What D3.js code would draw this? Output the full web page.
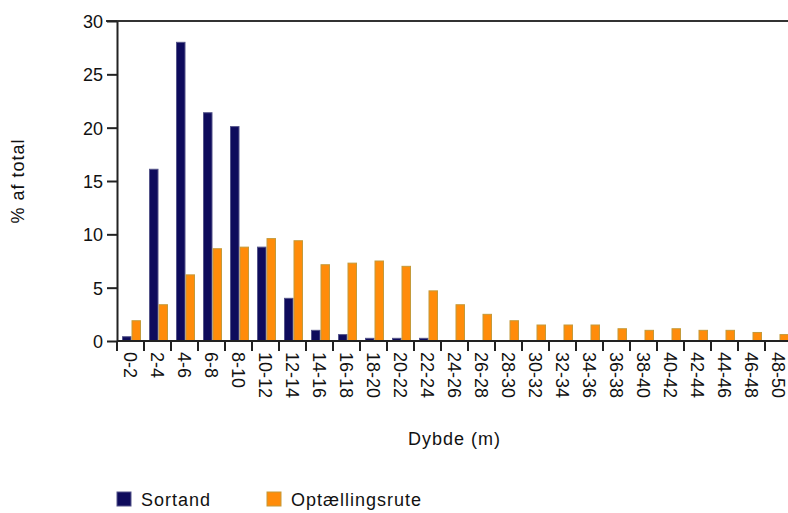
<!DOCTYPE html>
<html>
<head>
<meta charset="utf-8">
<script src="https://cdn.jsdelivr.net/npm/d3@7"></script>
<style>
  body { margin: 0; background: #fff; }
  text { font-family: "Liberation Sans", Arial, sans-serif; fill: #111; }
  .axis path, .axis line { stroke: #222; stroke-width: 2; }
</style>
</head>
<body>
<div id="chart"></div>
<script>
var width = 788;
var height = 513;

var categories = ["0-2","2-4","4-6","6-8","8-10","10-12","12-14","14-16","16-18","18-20",
                  "20-22","22-24","24-26","26-28","28-30","30-32","32-34","34-36","36-38",
                  "38-40","40-42","42-44","44-46","46-48","48-50"];
var sortand = [0.4, 16.1, 28.0, 21.4, 20.1, 8.8, 4.0, 1.0, 0.6, 0.25, 0.25, 0.25, 0,
               0, 0, 0, 0, 0, 0, 0, 0, 0, 0, 0, 0];
var optaelling = [1.9, 3.4, 6.2, 8.65, 8.8, 9.6, 9.4, 7.15, 7.3, 7.5, 7.0, 4.7, 3.4,
                  2.5, 1.9, 1.5, 1.5, 1.5, 1.15, 1.0, 1.15, 1.0, 1.0, 0.8, 0.6];
var seriesNames = ["Sortand", "Optællingsrute"];
var yTicks = [0, 5, 10, 15, 20, 25, 30];

var colors = { "Sortand": "#0e0b5c", "Optællingsrute": "#ff8c0a" };
var strokes = { "Sortand": "#55558a", "Optællingsrute": "#c49a3a" };

var plotLeft = 117, plotRight = 792, plotTop = 21, plotBottom = 341;

var svg = d3.select("#chart").append("svg")
    .attr("width", width)
    .attr("height", height);

var x0 = d3.scaleBand().domain(categories).range([plotLeft, plotRight]).padding(0);
var x1 = d3.scaleBand().domain(seriesNames).range([5, 24]).padding(0);
var y = d3.scaleLinear().domain([0, 30]).range([plotBottom, plotTop]);

var rows = categories.map(function(c, i) {
  return { cat: c, values: [
    { name: "Sortand", v: sortand[i] },
    { name: "Optællingsrute", v: optaelling[i] }
  ]};
});

// bars
var groups = svg.selectAll("g.cat").data(rows).enter().append("g")
  .attr("class", "cat")
  .attr("transform", function(d) { return "translate(" + x0(d.cat) + ",0)"; });

groups.selectAll("rect")
  .data(function(d) { return d.values.filter(function(v) { return v.v > 0; }); })
  .enter().append("rect")
  .attr("x", function(d) { return x1(d.name) + 0.5; })
  .attr("width", x1.bandwidth() - 1)
  .attr("y", function(d) { return y(d.v); })
  .attr("height", function(d) { return plotBottom - y(d.v); })
  .attr("fill", function(d) { return colors[d.name]; })
  .attr("stroke", function(d) { return strokes[d.name]; })
  .attr("stroke-width", 1);

// top frame line
svg.append("line")
  .attr("x1", plotLeft - 11).attr("x2", width)
  .attr("y1", y(30)).attr("y2", y(30))
  .attr("stroke", "#333").attr("stroke-width", 2);

// y axis
var yAxis = d3.axisLeft(y).tickValues(yTicks).tickSize(10).tickSizeOuter(0).tickPadding(4);
var gy = svg.append("g").attr("class", "axis")
  .attr("transform", "translate(" + plotLeft + ",0)")
  .call(yAxis);
gy.selectAll("text").style("font-size", "18px").attr("dy", "0.36em");

// x axis: line, ticks at band edges, rotated labels
var gx = svg.append("g").attr("class", "axis");
gx.append("line")
  .attr("x1", plotLeft).attr("x2", width)
  .attr("y1", plotBottom).attr("y2", plotBottom);
gx.selectAll("line.tick").data(categories).enter().append("line")
  .attr("class", "tick")
  .attr("x1", function(d) { return x0(d); })
  .attr("x2", function(d) { return x0(d); })
  .attr("y1", plotBottom).attr("y2", plotBottom + 10);
gx.selectAll("text").data(categories).enter().append("text")
  .attr("transform", function(d) {
    return "translate(" + (x0(d) + x0.bandwidth() / 2) + "," + (plotBottom + 11) + ") rotate(90)";
  })
  .attr("dy", "0.36em")
  .style("font-size", "18px")
  .text(function(d) { return d; });

// axis titles
svg.append("text")
  .attr("x", (plotLeft + plotRight) / 2).attr("y", 445)
  .attr("text-anchor", "middle")
  .style("font-size", "18px").style("letter-spacing", "1px")
  .text("Dybde (m)");

svg.append("text")
  .attr("transform", "translate(24,181) rotate(-90)")
  .attr("text-anchor", "middle")
  .style("font-size", "18px").style("letter-spacing", "1px")
  .text("% af total");

// legend
var legendX = [117, 267];
var legend = svg.selectAll("g.legend").data(seriesNames).enter().append("g")
  .attr("class", "legend")
  .attr("transform", function(d, i) { return "translate(" + legendX[i] + ",492)"; });
legend.append("rect")
  .attr("width", 14).attr("height", 14)
  .attr("fill", function(d) { return colors[d]; })
  .attr("stroke", function(d) { return strokes[d]; });
legend.append("text")
  .attr("x", 24).attr("y", 14)
  .style("font-size", "18px").style("letter-spacing", "1px")
  .text(function(d) { return d; });
</script>
</body>
</html>
